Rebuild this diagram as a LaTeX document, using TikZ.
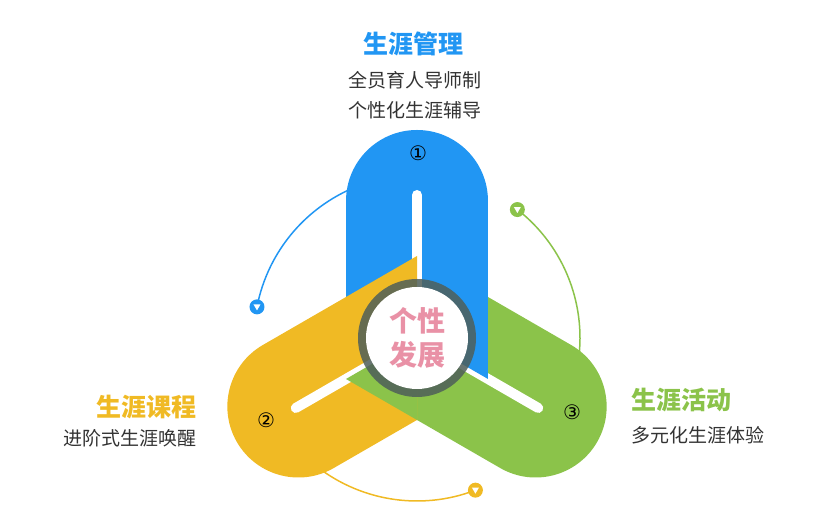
\documentclass[tikz,border=0pt]{standalone}
\usepackage{fontspec}
\setmainfont{Noto Sans CJK SC}
\newfontfamily\symfont{DejaVu Sans}
\usetikzlibrary{calc}
\definecolor{armblue}{HTML}{2196F3}
\definecolor{armyellow}{HTML}{F0BA24}
\definecolor{armgreen}{HTML}{8BC34A}
\definecolor{ringgray}{HTML}{4F5F5A}
\definecolor{pinktext}{HTML}{E991A6}
\definecolor{bodytext}{HTML}{333333}
\begin{document}
\begin{tikzpicture}[x=1pt, y=1pt,
      arm/.style={line width=142pt, line cap=round},
      slot/.style={line width=10pt, line cap=round, white},
      track/.style={line width=1.5pt},
      marker/.style={circle, inner sep=0pt, minimum size=15pt},
      heading/.style={font=\fontsize{25}{28}\selectfont\bfseries},
      detail/.style={font=\fontsize{19}{22}\selectfont, text=bodytext},
      numlabel/.style={font=\symfont\fontsize{20}{22}\selectfont}
    ]
    \useasboundingbox (0,0) rectangle (815,510);
    \coordinate (C) at (417,172);

    % Tracks
    \draw[track, armblue] ($(C)+(110:163)$) arc[start angle=110, end angle=169, radius=163];
    \draw[track, armgreen] ($(C)+(52:163)$) arc[start angle=52, end angle=-10, radius=163];
    \draw[track, armyellow] ($(C)+(230:163)$) arc[start angle=230, end angle=291, radius=163];

    % Markers
    \node[marker, fill=armblue] (mblue) at ($(C)+(169:163)$) {};
    \node[marker, fill=armgreen] (mgreen) at ($(C)+(52:163)$) {};
    \node[marker, fill=armyellow] (myellow) at ($(C)+(291:163)$) {};
    \foreach \m in {mblue, mgreen, myellow}
      \fill[white] ($(\m)+(-3.5,2.5)$) -- ($(\m)+(3.5,2.5)$) -- ($(\m)+(0,-3.5)$) -- cycle;

    % Green arm, right part
    \begin{scope}
      \clip ($(C)+(0,-500)$) rectangle ($(C)+(500,500)$);
      \clip[rotate around={30:(C)}] ($(C)+(-500,-500)$) rectangle ($(C)+(500,0)$);
      \draw[arm, armgreen] ($(C)+(150:100)$) -- ($(C)+(330:137)$);
      \draw[slot] ($(C)+(330:48)$) -- ($(C)+(330:140)$);
    \end{scope}

    % Blue arm
    \begin{scope}
      \clip[rotate around={-30:(C)}] ($(C)+(-500,0)$) rectangle ($(C)+(500,500)$);
      \draw[arm, armblue] ($(C)+(270:100)$) -- ($(C)+(90:137)$);
      \draw[slot] ($(C)+(90:48)$) -- ($(C)+(90:143)$);
    \end{scope}

    % Yellow arm
    \begin{scope}
      \clip ($(C)+(-500,-500)$) rectangle ($(C)+(0,500)$);
      \draw[arm, armyellow] ($(C)+(30:100)$) -- ($(C)+(210:137)$);
      \draw[slot] ($(C)+(210:48)$) -- ($(C)+(210:140)$);
    \end{scope}

    % Green arm, left part
    \begin{scope}
      \clip ($(C)+(-500,-500)$) rectangle ($(C)+(0,500)$);
      \clip[rotate around={30:(C)}] ($(C)+(-500,-500)$) rectangle ($(C)+(500,0)$);
      \draw[arm, armgreen] ($(C)+(150:100)$) -- ($(C)+(330:137)$);
    \end{scope}

    % Centre
    \fill[ringgray, opacity=0.85] (C) circle (59);
    \fill[white] (C) circle (51);
    \node[font=\fontsize{28}{34}\selectfont\bfseries, text=pinktext, align=center] (core) at (C) {个性\\发展};

    % Numbers
    \node[numlabel] (n1) at (418,357) {①};
    \node[numlabel] (n2) at (266,90) {②};
    \node[numlabel] (n3) at (572,98) {③};

    % Labels
    \node[heading, text=armblue] (t1) at (413,466) {生涯管理};
    \node[detail] (d1a) at (415,430) {全员育人导师制};
    \node[detail] (d1b) at (415,400) {个性化生涯辅导};
    \node[heading, text=armyellow, anchor=east] (t2) at (200,103) {生涯课程};
    \node[detail, anchor=east] (d2) at (200,72) {进阶式生涯唤醒};
    \node[heading, text=armgreen, anchor=west] (t3) at (628,110) {生涯活动};
    \node[detail, anchor=west] (d3) at (628,75) {多元化生涯体验};
  \end{tikzpicture}
\end{document}
